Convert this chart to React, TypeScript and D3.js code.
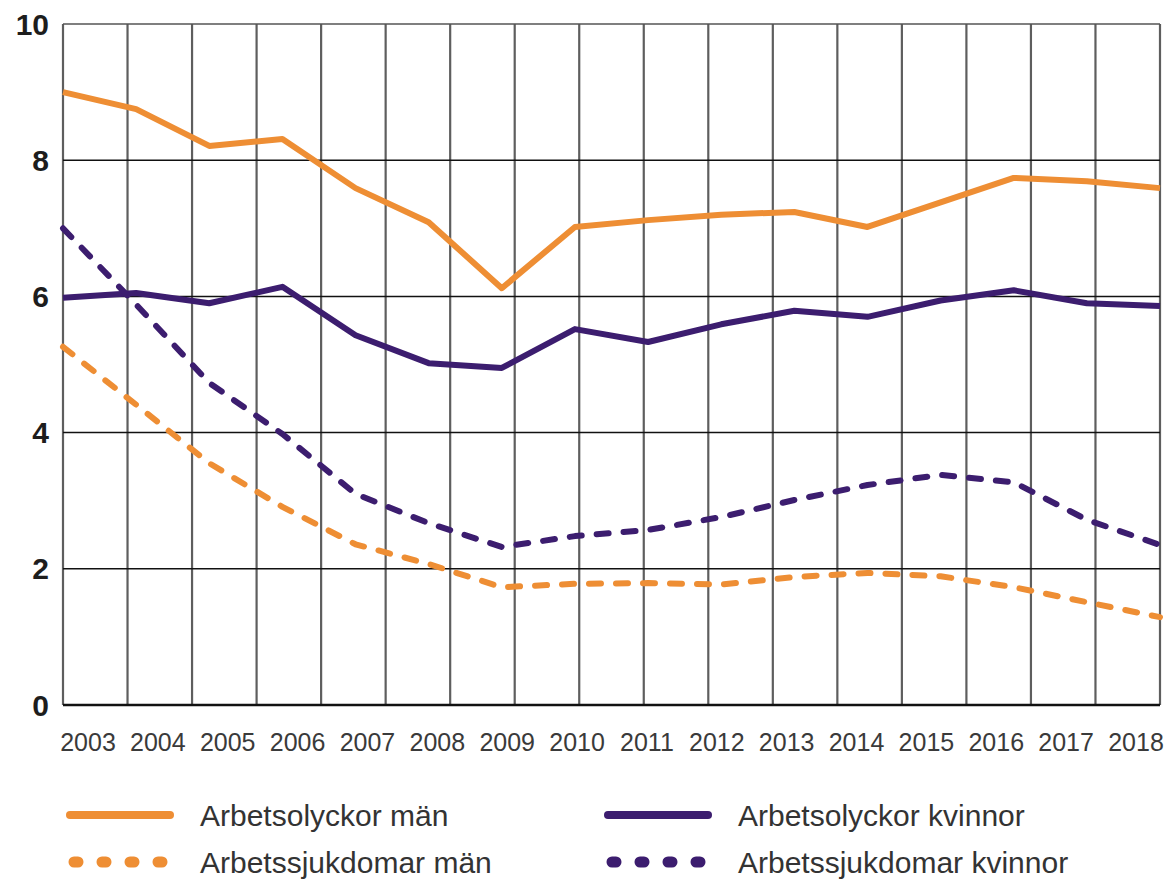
import React, { useRef, useEffect } from 'react';
import * as d3 from 'd3';

const years = ['2003', '2004', '2005', '2006', '2007', '2008', '2009', '2010',
  '2011', '2012', '2013', '2014', '2015', '2016', '2017', '2018'];

const olyckorMan = [9.0, 8.75, 8.21, 8.31, 7.59, 7.09, 6.12, 7.02, 7.12, 7.2, 7.24, 7.02, 7.38, 7.74, 7.69, 7.59];
const olyckorKvinnor = [5.98, 6.05, 5.9, 6.14, 5.43, 5.02, 4.95, 5.52, 5.33, 5.59, 5.79, 5.7, 5.94, 6.09, 5.9, 5.86];
const sjukdomarMan = [5.26, 4.41, 3.55, 2.91, 2.36, 2.07, 1.73, 1.78, 1.79, 1.77, 1.88, 1.94, 1.89, 1.73, 1.51, 1.29];
const sjukdomarKvinnor = [7.0, 5.88, 4.73, 3.98, 3.1, 2.67, 2.32, 2.48, 2.57, 2.76, 3.01, 3.23, 3.38, 3.27, 2.72, 2.35];

const yTicks = [0, 2, 4, 6, 8, 10];

const ORANGE = '#EE8E34';
const PURPLE = '#3C1D6F';

const series = [
  { name: 'Arbetsolyckor män', values: olyckorMan, color: ORANGE, dashed: false },
  { name: 'Arbetsolyckor kvinnor', values: olyckorKvinnor, color: PURPLE, dashed: false },
  { name: 'Arbetssjukdomar män', values: sjukdomarMan, color: ORANGE, dashed: true },
  { name: 'Arbetssjukdomar kvinnor', values: sjukdomarKvinnor, color: PURPLE, dashed: true },
];

const App = () => {
  const svgRef = useRef<SVGSVGElement>(null);

  useEffect(() => {
    const svg = d3.select(svgRef.current);
    svg.selectAll('*').remove();

    const left = 63, right = 1160, top = 24, bottom = 705;

    // data points sit from edge to edge of the plot
    const x = d3.scalePoint<string>().domain(years).range([left, right]);
    // the labels are spread on their own, a bit inside
    const xLabel = d3.scalePoint<string>().domain(years).range([88, 1136]);
    const y = d3.scaleLinear().domain([0, 10]).range([bottom, top]);

    // vertical grid: 17 even columns, not tied to the years
    const cols = d3.range(18);
    const xGrid = d3.scaleLinear().domain([0, 17]).range([left, right]);

    svg.append('g')
      .selectAll('line')
      .data(cols)
      .enter().append('line')
      .attr('x1', d => xGrid(d)).attr('x2', d => xGrid(d))
      .attr('y1', top).attr('y2', bottom)
      .attr('stroke', '#5e5e5e')
      .attr('stroke-width', 2.2);

    svg.append('g')
      .selectAll('line')
      .data(yTicks)
      .enter().append('line')
      .attr('x1', left).attr('x2', right)
      .attr('y1', d => y(d)).attr('y2', d => y(d))
      .attr('stroke', d => (d === 10 ? '#555' : '#111'))
      .attr('stroke-width', d => (d === 0 ? 2.5 : 1.5));

    svg.append('g')
      .selectAll('text')
      .data(yTicks)
      .enter().append('text')
      .attr('x', 49)
      .attr('y', d => y(d))
      .attr('dy', '0.35em')
      .attr('text-anchor', 'end')
      .style('font-family', 'Liberation Sans, Arial, sans-serif')
      .style('font-weight', 'bold')
      .style('font-size', '30px')
      .attr('fill', '#1d1d1d')
      .text(d => d);

    svg.append('g')
      .selectAll('text')
      .data(years)
      .enter().append('text')
      .attr('x', d => xLabel(d) as number)
      .attr('y', 751)
      .attr('text-anchor', 'middle')
      .style('font-family', 'Liberation Sans, Arial, sans-serif')
      .style('font-size', '25px')
      .attr('fill', '#3a3a3a')
      .text(d => d);

    const line = d3.line<number>()
      .x((d, i) => x(years[i]) as number)
      .y(d => y(d));

    svg.append('g')
      .selectAll('path')
      .data(series)
      .enter().append('path')
      .attr('d', d => line(d.values))
      .attr('fill', 'none')
      .attr('stroke', d => d.color)
      .attr('stroke-width', 6)
      .attr('stroke-linejoin', 'round')
      .attr('stroke-linecap', d => (d.dashed ? 'round' : 'butt'))
      .attr('stroke-dasharray', d => (d.dashed ? '12,15' : null));

    // legend, two columns
    const legendPos = [
      { lx: 68, ly: 815 }, { lx: 606, ly: 815 },
      { lx: 68, ly: 862 }, { lx: 606, ly: 862 },
    ];
    const lg = svg.append('g')
      .selectAll('g')
      .data(series)
      .enter().append('g')
      .attr('transform', (d, i) => `translate(${legendPos[i].lx},${legendPos[i].ly})`);

    lg.append('line')
      .attr('x1', d => (d.dashed ? 6 : 2))
      .attr('x2', d => (d.dashed ? 102 : 102))
      .attr('y1', 0).attr('y2', 0)
      .attr('stroke', d => d.color)
      .attr('stroke-width', d => (d.dashed ? 11 : 8))
      .attr('stroke-linecap', 'round')
      .attr('stroke-dasharray', d => (d.dashed ? '4,24' : null));

    lg.append('text')
      .attr('x', 132)
      .attr('y', 0)
      .attr('dy', '0.35em')
      .style('font-family', 'Liberation Sans, Arial, sans-serif')
      .style('font-size', '30px')
      .attr('fill', '#333')
      .text(d => d.name);
  }, []);

  return (
    <svg
      ref={svgRef}
      width={1171}
      height={883}
      style={{ position: 'absolute', left: 0, top: 0, background: '#fff' }}
    />
  );
};

export default App;
